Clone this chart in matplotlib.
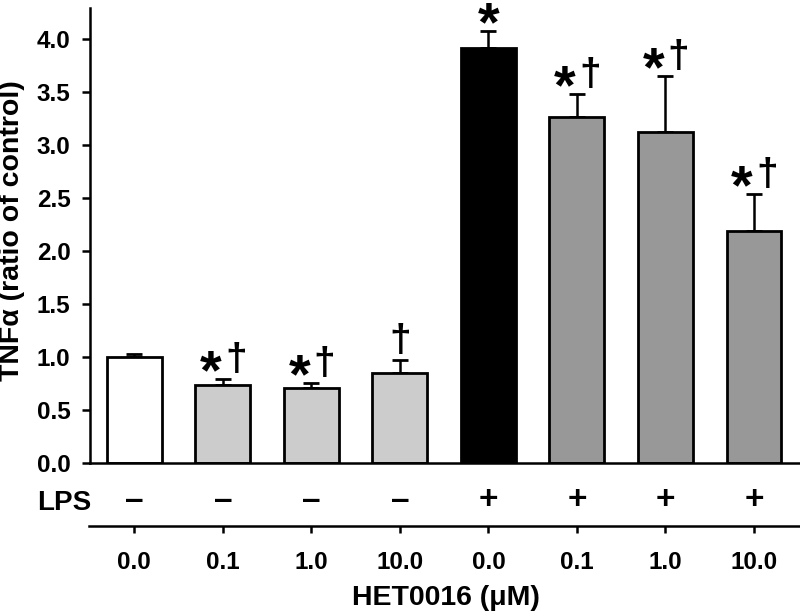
import numpy as np
import matplotlib
matplotlib.use("Agg")
import matplotlib.pyplot as plt
from matplotlib import transforms

plt.rcParams['font.family'] = ['Liberation Sans', 'DejaVu Sans']
plt.rcParams['font.weight'] = 'bold'

# --- data ---
het_doses = ["0.0", "0.1", "1.0", "10.0", "0.0", "0.1", "1.0", "10.0"]
lps_marks = ["\u2013", "\u2013", "\u2013", "\u2013", "+", "+", "+", "+"]
tnf_mean = [1.00, 0.735, 0.705, 0.845, 3.91, 3.26, 3.12, 2.19]
tnf_err = [0.03, 0.055, 0.05, 0.125, 0.16, 0.22, 0.53, 0.345]
bar_colors = ["white", "#cccccc", "#cccccc", "#cccccc",
              "black", "#989898", "#989898", "#989898"]
signif = ["", "*\u2020", "*\u2020", "\u2020", "*", "*\u2020", "*\u2020", "*\u2020"]

W, H = 800, 616
PX = 0.72  # points per pixel at dpi 100

fig = plt.figure(figsize=(W / 100, H / 100), dpi=100)
ax = fig.add_axes([90 / W, 1 - 463 / H, 710 / W, (463 - 8) / H])

x = np.arange(len(tnf_mean))
ax.bar(x, tnf_mean, width=0.62, color=bar_colors, edgecolor="black",
       linewidth=2.0, zorder=2)
ax.errorbar(x, tnf_mean, yerr=[np.zeros(len(tnf_err)), tnf_err], fmt="none",
            ecolor="black", elinewidth=1.8, capsize=5.5, capthick=2.0, zorder=1)

ax.set_xlim(-0.5, 7.52)
ax.set_ylim(0, 4.29)
ax.set_yticks(np.arange(0, 4.01, 0.5))
ax.set_yticklabels([f"{v:.1f}" for v in np.arange(0, 4.01, 0.5)], fontsize=17.5)
ax.tick_params(axis="y", direction="out", length=6, width=1.8, pad=8)
ax.tick_params(axis="x", length=0, labelbottom=False)
for side in ["top", "right"]:
    ax.spines[side].set_visible(False)
for side in ["left", "bottom"]:
    ax.spines[side].set_linewidth(1.8)

# significance marks above the error bars
for xi, m, e, s in zip(x, tnf_mean, tnf_err, signif):
    top = m + e
    both = len(s) == 2
    if "*" in s:
        ax.annotate("*", xy=(xi, top), xytext=((-12 if both else 0) * PX, -9 * PX),
                    textcoords="offset points", ha="center", va="baseline",
                    fontsize=40, fontweight="bold")
    if "\u2020" in s:
        ax.annotate("\u2020", xy=(xi, top), xytext=((13 if both else 0) * PX, 9 * PX),
                    textcoords="offset points", ha="center", va="baseline",
                    fontsize=28, fontweight="bold")

# LPS row
row = transforms.blended_transform_factory(ax.transData, fig.transFigure)
fig.text(64 / W, 1 - 503 / H, "LPS", ha="center", va="center", fontsize=20)
for xi, s in zip(x, lps_marks):
    ax.text(xi, 1 - 509 / H, s, transform=row, ha="center", va="baseline",
            fontsize=24, fontweight="bold")

# HET0016 axis
ax2 = fig.add_axes([89 / W, 1 - 526 / H, 711 / W, 0.001])
ax2.set_xlim(-0.5 - 1 / 88.5, 7.52)
ax2.set_ylim(0, 1)
ax2.set_xticks(x)
ax2.set_xticklabels(het_doses, fontsize=17.5)
ax2.set_yticks([])
ax2.tick_params(axis="x", direction="out", length=5, width=1.8, pad=13)
for side in ["top", "right", "left"]:
    ax2.spines[side].set_visible(False)
ax2.spines["bottom"].set_linewidth(1.8)
ax2.patch.set_visible(False)

fig.text(446 / W, 1 - 598 / H, "HET0016 (\u03bcM)", ha="center", va="center",
         fontsize=20.5)
fig.text(12 / W, 1 - 231 / H, "TNF\u03b1 (ratio of control)", ha="center",
         va="center", rotation=90, fontsize=20.5)

fig.savefig("out.png", dpi=100)
